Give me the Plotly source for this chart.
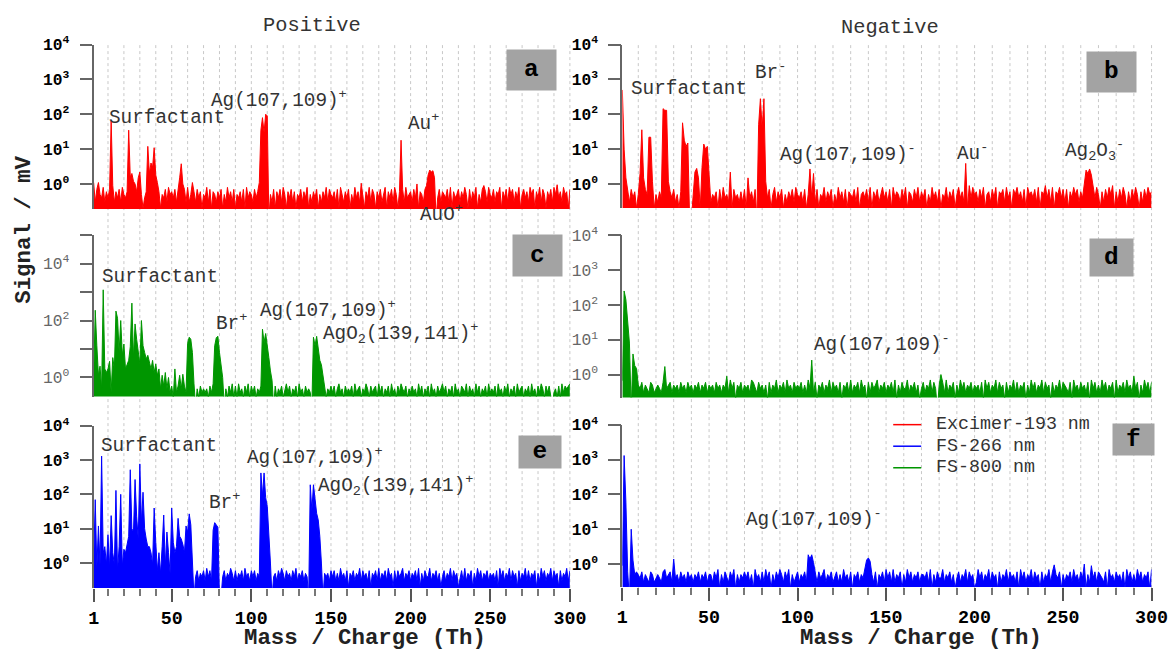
import plotly.graph_objects as go

# The photographed page shows the figure scaled by ~0.982 with a small offset;
# positions below are given in reference-image pixels and converted.
S = 0.982
OX, OY = 4.3, 8.5
W = 1186
H = 655
FONT = "Liberation Mono, Courier New, monospace"

RED = "#ff0000"
BLUE = "#0000ff"
GREEN = "#009600"

x_tickvals = [1, 50, 100, 150, 200, 250, 300]
y_tickvals_4 = [1, 10, 100, 1000, 10000]
y_tickvals_5 = [1, 10, 100, 1000, 10000, 100000]

# noise floor read per 1 Th (mass 1..300), digit = signal in tenths of mV
noise_a = """6372548364 7253647385 4635274638 5246375847 3625473856
4736254738 3526374625 4837265364 7253846372 5463728465
3746528341 1537264738 5264736254 7364825364 7253648375
4637285364 7253846375 2648375264 7358264738 5264738456
3748265374 6382514736 5473826457 3648527364 8253746385
4736582647 3857364825 7463857264 8375264738 5746385627"""
noise_b = """3546374625 2437536425 3647253647 3526473811 4637254736
3546273845 3627453637 2546371845 3647258364 7253647385
4637258463 7254836472 5384637265 4738256473 8264735846
3728465374 8265374836 4725384637 2548364725 8463729485
6374825637 4826573846 2758463728 5647382659 4738265847
3726485736 4825637485 2637485926 3748526374 8526374856"""
noise_c = """3425343526 4352436345 2536434253 4635243542 6343524635
2435342534 3622142534 3425362435 3414253625 2634253625
3524352634 4331524352 4635243526 3425343145 4534152435
3524634253 4352634524 3642534526 3524352634 2536435243
5342635243 5263425346 3524352634 2543625342 6352435263
4352634253 6243526345 2435263425 3642535213 4252635456"""
noise_d = """6555515435 4635436534 5436745635 4536453645 3546354635
4536453546 3746254635 4537643645 3526354735 4637453645
4635374536 2546354736 4536254637 3546374526 3645735463
5463725364 4735463524 6354736415 4637354625 3746354635
4536274635 4736452635 4736354625 3746354736 4526354736
5436274536 4536274635 3746354627 3546374536 4625374636"""
noise_e = """9878968798 7989867989 7868979868 7968786958 6857686758
6574685765 5411463546 3746354631 1463547536 3546374536
4635475364 5114536475 3645364735 4635416666 6666154536
4635374536 2546354736 4536254637 3546374526 3645735463
5463725364 4735463524 6354736452 4637354625 3746354635
4536274635 4736452635 4736354625 3746354736 4526354736"""
noise_f = """9551155565 4635436534 5436745635 4536453645 3546354635
5364725364 3647253546 4635274536 3746253647 5364725346
3546374526 3645735463 4635374536 2546354736 4536254637
4637354625 3746354635 5463725364 4735463524 6354736452
3746354736 4526354736 4536274635 4736452635 4736354625
3546374536 4625374636 5436274536 4536274635 3746354627"""

# peaks (mass: signal in mV)
peaks_a = {1: 1.1, 4: 1.1, 12: 65, 13: 0.9, 23: 35, 24: 1.6, 25: 2.0, 26: 1.2, 27: 1.0,
           29: 1.5, 30: 2.2, 35: 12, 36: 2.0, 37: 4.0, 38: 3.0, 39: 11, 40: 1.8, 41: 1.1,
           55: 1.5, 56: 3.8, 57: 1.0, 63: 1.1, 105: 1.1, 106: 35, 107: 80, 108: 30,
           109: 100, 110: 90, 169: 1.05, 193: 0.6, 194: 18, 204: 1.0, 210: 0.9,
           211: 1.8, 212: 2.5, 213: 2.2, 214: 2.4, 215: 1.5, 246: 0.9, 292: 0.95}
peaks_b = {1: 500, 2: 10, 3: 1.5, 11: 2.0, 12: 36, 13: 1.5, 16: 22, 17: 22, 18: 1.2,
           24: 145, 25: 130, 26: 130, 27: 1.2, 35: 57, 36: 18, 37: 12, 38: 15,
           42: 2.2, 43: 2.8, 44: 1.5, 46: 3, 47: 14, 48: 10, 49: 12, 50: 1.2,
           62: 2.2, 72: 1.5, 78: 50, 79: 280, 80: 40, 81: 280, 82: 1.2,
           107: 2.7, 109: 2.0, 195: 3.9, 262: 1.0, 263: 2.5, 264: 2.0, 265: 2.7,
           266: 1.8, 267: 0.9}
peaks_c = {1: 0.9, 2: 230, 3: 13, 4: 1.2, 5: 2.5, 7: 1200, 8: 2, 9: 1.5, 10: 2.0,
           11: 3.7, 13: 5, 14: 2, 15: 215, 16: 120, 17: 8, 18: 100, 19: 6, 20: 15,
           21: 2, 22: 3, 23: 4, 24: 12, 25: 410, 26: 5, 27: 76, 28: 22, 29: 8, 30: 3,
           31: 100, 32: 13, 33: 7.6, 34: 4.5, 35: 6, 36: 3, 37: 2, 38: 4, 39: 1.5,
           40: 3, 41: 1.2, 42: 2, 44: 1.2, 46: 1.5, 48: 1.0, 52: 2, 55: 1.2, 57: 1.3,
           60: 16, 61: 26, 62: 22, 63: 7.6, 64: 0.6, 77: 13, 78: 25, 79: 28, 80: 7.6,
           81: 3.2, 82: 1.0, 107: 50, 108: 17, 109: 35, 110: 10, 111: 5, 112: 1.7,
           113: 0.8, 139: 26, 140: 13, 141: 28, 142: 8, 143: 4, 144: 2.8, 145: 1.0}
peaks_d = {1: 0.67, 2: 250, 3: 140, 4: 25, 5: 8, 7: 3.9, 8: 1.8, 9: 1.5, 25: 1.7,
           60: 0.9, 108: 2.6, 181: 1.0, 290: 0.9}
peaks_e = {1: 1.0, 2: 70, 4: 12, 6: 1300, 7: 2, 8: 3, 10: 6.7, 12: 24, 13: 2, 15: 130,
           17: 3, 18: 100, 20: 2.5, 21: 2, 22: 4, 23: 6, 24: 520, 25: 10, 26: 8,
           27: 270, 28: 23, 29: 5, 30: 770, 31: 15, 32: 115, 33: 10, 34: 5, 35: 3,
           36: 3, 37: 2, 39: 40, 40: 4, 42: 2, 44: 3, 45: 25, 47: 8, 48: 2, 50: 40,
           51: 4, 52: 2, 53: 3, 54: 20, 55: 6, 56: 5, 57: 3.5, 58: 2, 59: 12, 60: 8,
           61: 27, 62: 13, 63: 2, 76: 9, 77: 15, 78: 13, 79: 11, 106: 420, 107: 90,
           108: 420, 109: 80, 110: 45, 111: 9, 112: 1.0, 137: 190, 138: 33, 139: 190,
           140: 80, 141: 28, 142: 18, 143: 6, 144: 1.0}
peaks_f = {1: 0.9, 2: 1300, 3: 60, 4: 0.6, 6: 10, 7: 1.3, 30: 1.4, 106: 1.85,
           107: 1.4, 108: 1.85, 109: 1.1, 139: 1.3, 140: 1.5, 141: 1.2, 245: 0.95,
           262: 1.0, 266: 0.9}

legend_names = ["Excimer-193 nm", "FS-266 nm", "FS-800 nm"]
legend_colors = [RED, BLUE, GREEN]


def spectrum(noise, peaks):
    digits = "".join(noise.split())
    y = [int(d) / 10 for d in digits]
    for m, v in peaks.items():
        y[m - 1] = v
    return y


mass = list(range(1, 301))

# panel layout (pixel boxes in the reference image)
XL = (92, 568.5)
XR = (621, 1150.5)
panels = [
    ("a", spectrum(noise_a, peaks_a), RED, XL, (43, 207), [-0.72, 4], y_tickvals_4, True, 0),
    ("b", spectrum(noise_b, peaks_b), RED, XR, (43, 206), [-0.69, 4], y_tickvals_4, True, 0),
    ("c", spectrum(noise_c, peaks_c), GREEN, XL, (233, 394), [-0.67, 5], y_tickvals_5, False, 2),
    ("d", spectrum(noise_d, peaks_d), GREEN, XR, (233, 395), [-0.66, 4], y_tickvals_4, False, 2),
    ("e", spectrum(noise_e, peaks_e), BLUE, XL, (423, 585), [-0.73, 4], y_tickvals_4, True, 1),
    ("f", spectrum(noise_f, peaks_f), BLUE, XR, (422, 584), [-0.66, 4], y_tickvals_4, True, 1),
]


def px_x(p):
    return ((p - OX) / S) / W


def px_y(p):
    return 1 - ((p - OY) / S) / H


def fs(size):
    return size / S


fig = go.Figure()
layout = dict(width=W, height=H, margin=dict(l=0, r=0, t=0, b=0),
              paper_bgcolor="white", plot_bgcolor="rgba(0,0,0,0)",
              showlegend=False)

for i, (key, y, color, xpx, ypx, rng, tv, bold, li) in enumerate(panels, start=1):
    xname = "x" if i == 1 else f"x{i}"
    yname = "y" if i == 1 else f"y{i}"
    fig.add_trace(go.Scatter(x=mass, y=y, mode="lines", name=legend_names[li],
                             line=dict(color=color, width=1),
                             fill="tozeroy", fillcolor=color, xaxis=xname, yaxis=yname,
                             showlegend=False, hoverinfo="skip"))
    bottom = key in ("e", "f")
    xa = dict(domain=[px_x(xpx[0]), px_x(xpx[1])], range=[1, 300], anchor=yname,
              showgrid=False, zeroline=False, showline=False)
    if bottom:
        xa.update(tickmode="array", tickvals=x_tickvals, ticks="outside", ticklen=fs(13),
                  tickwidth=1.5, tickcolor="#555",
                  tickfont=dict(family=FONT, size=fs(18), color="black", weight="bold"),
                  minor=dict(dtick=10, tick0=0, ticks="outside", ticklen=fs(7),
                             tickwidth=1.5, tickcolor="#777", showgrid=False))
    else:
        xa.update(showticklabels=False, ticks="")
    texts = []
    for v in tv:
        e = len(str(v)) - 1
        if key == "c" and e % 2 == 1:
            texts.append("")
        else:
            texts.append(f"10<sup>{e}</sup>")
    ya = dict(domain=[px_y(ypx[1]), px_y(ypx[0])], type="log", range=rng, anchor=xname,
              showgrid=False, zeroline=False, showline=True, linecolor="#666",
              linewidth=1.5, ticks="outside", ticklen=fs(12), tickwidth=1.5,
              tickcolor="#666", ticklabelstandoff=7,
              tickmode="array", tickvals=tv, ticktext=texts,
              tickfont=dict(family=FONT, size=fs(16), color="black" if bold else "#666",
                            weight="bold" if bold else "normal"))
    layout["xaxis" if i == 1 else f"xaxis{i}"] = xa
    layout["yaxis" if i == 1 else f"yaxis{i}"] = ya

shapes = []
anns = []

# vertical dotted gridlines every 10 Th spanning all rows
for xpx in (XL, XR):
    for m in range(10, 301, 10):
        xp = xpx[0] + (m - 1) / 299 * (xpx[1] - xpx[0])
        shapes.append(dict(type="line", xref="paper", yref="paper",
                           x0=px_x(xp), x1=px_x(xp), y0=px_y(585), y1=px_y(43),
                           line=dict(color="#c8c8c8", width=1, dash="dot"), layer="below"))


def label(text, x, y, size=19, color="#333", xanchor="left", yanchor="middle", **kw):
    anns.append(dict(text=text, x=px_x(x), y=px_y(y), xref="paper", yref="paper",
                     xanchor=xanchor, yanchor=yanchor, showarrow=False,
                     font=dict(family=FONT, size=fs(size), color=color), **kw))


# legend (drawn as key lines + texts, inside panel f)
for k, (name, color) in enumerate(zip(legend_names, legend_colors)):
    yk = 422 + k * 21.5
    shapes.append(dict(type="line", xref="paper", yref="paper",
                       x0=px_x(892), x1=px_x(920), y0=px_y(yk), y1=px_y(yk),
                       line=dict(color=color, width=1.5)))
    label(name, 933, yk, size=18)

# peak labels
label("Surfactant", 105, 116)
label("Ag(107,109)<sup>+</sup>", 207, 98)
label("Au<sup>+</sup>", 405, 121)
label("AuO<sup>+</sup>", 417, 211)
label("Surfactant", 628, 87)
label("Br<sup>-</sup>", 752, 70)
label("Ag(107,109)<sup>-</sup>", 777, 152)
label("Au<sup>-</sup>", 954, 151)
label("Ag<sub>2</sub>O<sub>3</sub><sup>-</sup>", 1062, 149)
label("Surfactant", 98, 275)
label("Br<sup>+</sup>", 212, 320)
label("Ag(107,109)<sup>+</sup>", 256, 307)
label("AgO<sub>2</sub>(139,141)<sup>+</sup>", 319, 331)
label("Ag(107,109)<sup>-</sup>", 811, 341)
label("Surfactant", 97, 443)
label("Br<sup>+</sup>", 205, 499)
label("Ag(107,109)<sup>+</sup>", 243, 454)
label("AgO<sub>2</sub>(139,141)<sup>+</sup>", 314, 483)
label("Ag(107,109)<sup>-</sup>", 743, 516)

# column titles
label("Positive", 310, 24, size=20, xanchor="center")
label("Negative", 889, 26, size=20, xanchor="center")

# axis titles
label("<b>Mass / Charge (Th)</b>", 364, 635, size=22, color="#222", xanchor="center")
label("<b>Mass / Charge (Th)</b>", 920, 635, size=22, color="#222", xanchor="center")
label("<b>Signal / mV</b>", 22, 228, size=22, color="#222", xanchor="center", textangle=-90)

# panel letters
for letter, cx, cy, w, h in [("a", 530, 68.5, 48, 39), ("b", 1110, 70.5, 48, 39),
                             ("c", 536, 253, 48, 40), ("d", 1110, 255, 42, 36),
                             ("e", 538.5, 449.5, 41, 31), ("f", 1132, 437, 40, 30)]:
    anns.append(dict(text=f"<b>{letter}</b>", x=px_x(cx), y=px_y(cy), xref="paper",
                     yref="paper", xanchor="center", yanchor="middle", showarrow=False,
                     width=fs(w), height=fs(h), bgcolor="#a3a3a3", borderpad=0,
                     font=dict(family=FONT, size=fs(24), color="black")))

layout["shapes"] = shapes
layout["annotations"] = anns
fig.update_layout(**layout)
fig.write_html("out.html")
